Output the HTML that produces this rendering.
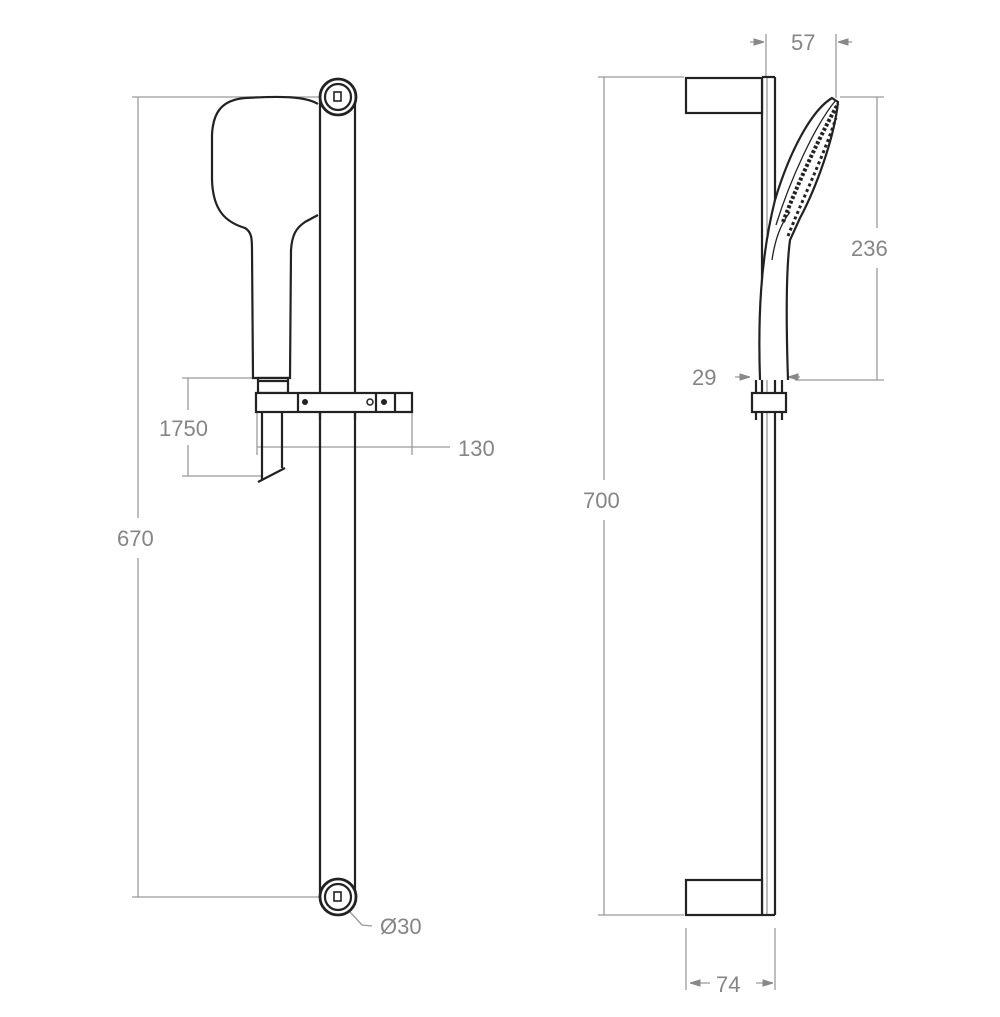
<!DOCTYPE html>
<html><head><meta charset="utf-8"><style>
html,body{margin:0;padding:0;background:#fff;}
svg{display:block;}
text{font-family:"Liberation Sans",sans-serif;font-size:22px;fill:#858585;}
</style></head><body>
<svg width="1000" height="1017" viewBox="0 0 1000 1017">
<defs>
<marker id="a" viewBox="0 0 10 10" refX="10" refY="5" markerWidth="8" markerHeight="8" orient="auto-start-reverse"><path d="M0,2 L10,5 L0,8 Z" fill="#888" stroke="#888" stroke-width="1"/></marker>
</defs>
<g stroke="#9a9a9a" stroke-width="1.3" fill="none">
<line x1="132" y1="97" x2="320" y2="97"/>
<line x1="132" y1="897" x2="322" y2="897"/>
<line x1="138" y1="97" x2="138" y2="518"/>
<line x1="138" y1="558" x2="138" y2="897"/>
<line x1="182" y1="378" x2="252" y2="378"/>
<line x1="182" y1="476" x2="262" y2="476"/>
<line x1="188" y1="378" x2="188" y2="410"/>
<line x1="188" y1="445" x2="188" y2="476"/>
<line x1="257" y1="412" x2="257" y2="455"/>
<line x1="412" y1="412" x2="412" y2="455"/>
<line x1="257" y1="447" x2="450" y2="447"/>
<path d="M350,912 L362,925 L372,926"/>
<line x1="598" y1="77" x2="684" y2="77"/>
<line x1="598" y1="915" x2="684" y2="915"/>
<line x1="604" y1="77" x2="604" y2="480"/>
<line x1="604" y1="520" x2="604" y2="915"/>
<line x1="686" y1="928" x2="686" y2="990"/>
<line x1="775" y1="928" x2="775" y2="990"/>
<line x1="690" y1="983" x2="710" y2="983" marker-start="url(#a)"/>
<line x1="756" y1="983" x2="773" y2="983" marker-end="url(#a)"/>
<line x1="766" y1="34" x2="766" y2="78"/>
<line x1="836" y1="34" x2="836" y2="98"/>
<line x1="750" y1="42" x2="764" y2="42" marker-end="url(#a)"/>
<line x1="852" y1="42" x2="838" y2="42" marker-end="url(#a)"/>
<line x1="840" y1="97" x2="884" y2="97"/>
<line x1="795" y1="380" x2="884" y2="380"/>
<line x1="877" y1="97" x2="877" y2="228"/>
<line x1="877" y1="268" x2="877" y2="380"/>
<line x1="735" y1="377" x2="750" y2="377" marker-end="url(#a)"/>
<line x1="800" y1="377" x2="788" y2="377" marker-end="url(#a)"/>
</g>
<g stroke="#222" stroke-width="2.2" fill="none">
<line x1="320" y1="97" x2="320" y2="897"/>
<line x1="355" y1="97" x2="355" y2="897"/>
<circle cx="338" cy="97" r="18" fill="#fff" stroke-width="2.8"/>
<circle cx="338" cy="97" r="13"/>
<rect x="334" y="92" width="7" height="9" stroke-width="1.6"/>
<circle cx="338" cy="897" r="18" fill="#fff" stroke-width="2.8"/>
<circle cx="338" cy="897" r="13"/>
<rect x="334" y="892" width="7" height="9" stroke-width="1.6"/>
<path d="M318,104 C305,96 280,96 245,98 C222,100 213,112 212,135 L212,180 C213,210 225,222 245,228 C252,232 252,240 252,250 L253,378 L290,378 L291,250 C292,235 296,228 305,222 L318,215" fill="#fff"/>
<rect x="258" y="378" width="30" height="15" fill="#fff"/>
<line x1="258" y1="381" x2="288" y2="381"/>
<line x1="262" y1="412" x2="262" y2="480"/>
<line x1="282" y1="412" x2="282" y2="468"/>
<line x1="258" y1="482" x2="285" y2="468"/>
<rect x="256" y="393" width="156" height="19" fill="#fff"/>
<line x1="298" y1="393" x2="298" y2="412"/>
<line x1="376" y1="393" x2="376" y2="412"/>
<line x1="395" y1="393" x2="395" y2="412"/>
<line x1="320" y1="412" x2="320" y2="420"/>
<line x1="355" y1="412" x2="355" y2="420"/>
<line x1="762" y1="77" x2="762" y2="915"/>
<line x1="775" y1="77" x2="775" y2="915"/>
<line x1="767" y1="77" x2="767" y2="915" stroke-width="1" stroke="#777"/>
<line x1="762" y1="77" x2="775" y2="77"/>
<line x1="762" y1="915" x2="775" y2="915"/>
<rect x="686" y="78" width="76" height="35" fill="#fff"/>
<rect x="686" y="880" width="76" height="35" fill="#fff"/>
<path d="M760,380 C758,320 760,260 775,200 C790,150 812,110 832,98 L838,102 C834,140 815,190 800,218 L790,240 C786,270 786,320 788,380" fill="#fff"/>
<path d="M776,225 C790,180 815,125 836,100" stroke-width="1.3"/>
<path d="M783,222 C799,180 823,130 838,104" stroke-width="4" stroke-dasharray="3 2"/>
<path d="M788,236 C802,200 822,160 836,118" stroke-width="3" stroke-dasharray="3 3"/>
<path d="M772,260 C775,240 780,225 790,212" stroke-width="1.3"/>
<rect x="752" y="393" width="34" height="19" fill="#fff"/>
<line x1="756" y1="380" x2="756" y2="393"/>
<line x1="782" y1="380" x2="782" y2="393"/>
<line x1="756" y1="412" x2="756" y2="420"/>
<line x1="782" y1="412" x2="782" y2="420"/>
</g>
<g fill="#222">
<circle cx="305" cy="402" r="3"/>
<circle cx="370" cy="402" r="3" fill="none" stroke="#222" stroke-width="1.5"/>
<circle cx="384" cy="402" r="3"/>
</g>
<text x="117" y="546">670</text>
<text x="159" y="436">1750</text>
<text x="458" y="456">130</text>
<text x="380" y="934">Ø30</text>
<text x="583" y="508">700</text>
<text x="716" y="992">74</text>
<text x="791" y="50">57</text>
<text x="851" y="256">236</text>
<text x="692" y="385">29</text>
</svg>
</body></html>
